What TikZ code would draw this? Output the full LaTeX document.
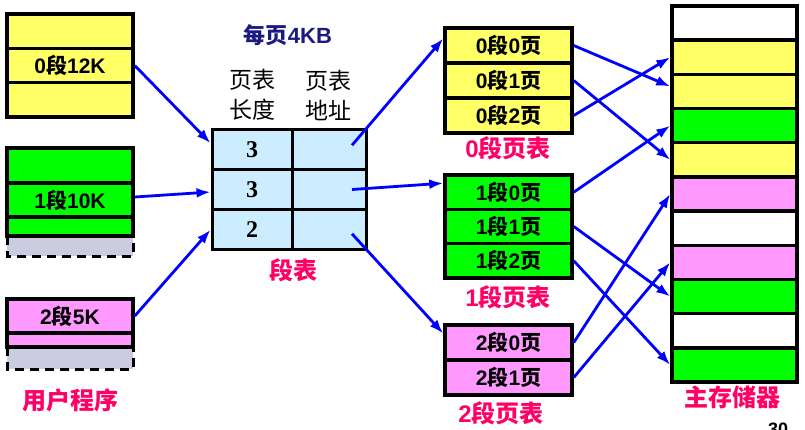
\documentclass[tikz,border=0pt]{standalone}
\usepackage{fontspec}
\setmainfont{Liberation Sans}
\newfontfamily\cjk{Noto Sans CJK SC}
\newfontfamily\numserif{Liberation Serif}
\newcommand\zh[1]{{\cjk #1}}
\usetikzlibrary{arrows.meta,calc}
\definecolor{yel}{HTML}{FFFF66}
\definecolor{grn}{HTML}{00FF00}
\definecolor{pnk}{HTML}{FF99FF}
\definecolor{gry}{HTML}{CCCCE0}
\definecolor{lblue}{HTML}{CCECFF}
\definecolor{redlab}{HTML}{FF0066}
\definecolor{navyc}{HTML}{1A1A80}
\definecolor{blueA}{HTML}{0000FF}
\begin{document}
\begin{tikzpicture}[x=1pt,y=-1pt,
  box/.style={draw=black,line width=3.5pt,inner sep=0pt,anchor=center},
  ublk/.style={box,minimum width=126pt},
  pblk/.style={box,minimum width=127pt,minimum height=#1},
  mcell/.style={box,minimum width=125pt,minimum height=34.18pt},
  tcell/.style={box,line width=3pt,fill=lblue,minimum height=40.3pt},
  lab/.style={font=\fontsize{21}{24}\selectfont\bfseries},
  numlab/.style={font=\numserif\bfseries\fontsize{24}{28}\selectfont},
  pinklab/.style={font=\fontsize{24}{28}\selectfont\bfseries,text=redlab},
  conn/.style={draw=blueA,line width=2.8pt,-{Latex[length=14pt,width=10pt]}},
  graybox/.style={fill=gry},
  dashb/.style={draw=black,line width=3pt,dash pattern=on 9pt off 6pt}
]
\useasboundingbox (0,0) rectangle (805,429);
\fill[white] (0,0) rectangle (805,429);
\clip (0,0) rectangle (805,429);

% ---- user program ----
\node[ublk,fill=yel,minimum height=34.3pt] (s0a) at (70,31.2) {};
\node[ublk,fill=yel,minimum height=34.3pt,lab] (s0b) at (70,65.5) {0\zh{段}12K};
\node[ublk,fill=yel,minimum height=34.3pt] (s0c) at (70,99.8) {};

\fill[graybox] (7,236) rectangle (133,256);
\draw[dashb] (7,236) -- (7,256) -- (133,256) -- (133,236);
\node[ublk,fill=grn,minimum height=35pt] (s1a) at (70,165.5) {};
\node[ublk,fill=grn,minimum height=34pt,lab] (s1b) at (70,200) {1\zh{段}10K};
\node[ublk,fill=grn,minimum height=19pt] (s1c) at (70,226.5) {};

\fill[graybox] (7,347) rectangle (133,369);
\draw[dashb] (7,347) -- (7,369) -- (133,369) -- (133,347);
\node[ublk,fill=pnk,minimum height=34pt,lab] (s2a) at (70,316) {2\zh{段}5K};
\node[ublk,fill=pnk,minimum height=14pt] (s2b) at (70,340) {};

\node[pinklab] (uprog) at (70,400) {\zh{用户程序}};

% ---- segment table ----
\node[navyc,font=\fontsize{22}{26}\selectfont\bfseries] (perpage) at (288,35) {\zh{每页}4KB};
\node[align=center,font=\cjk\fontsize{23}{30}\selectfont] (h1) at (252,95) {页表\\长度};
\node[align=center,font=\cjk\fontsize{23}{30}\selectfont] (h2) at (328,95) {页表\\地址};

\node[tcell,minimum width=80pt,numlab] (t0l) at (252,149.2) {3};
\node[tcell,minimum width=74pt] (t0r) at (329,149.2) {};
\node[tcell,minimum width=80pt,numlab] (t1l) at (252,189.5) {3};
\node[tcell,minimum width=74pt] (t1r) at (329,189.5) {};
\node[tcell,minimum width=80pt,numlab] (t2l) at (252,229.8) {2};
\node[tcell,minimum width=74pt] (t2r) at (329,229.8) {};
\node[pinklab] (segtab) at (293,270) {\zh{段表}};

% ---- page tables ----
\node[pblk=35pt,fill=yel,lab] (pt00) at (508.5,45.5) {0\zh{段}0\zh{页}};
\node[pblk=35pt,fill=yel,lab] (pt01) at (508.5,80.5) {0\zh{段}1\zh{页}};
\node[pblk=35pt,fill=yel,lab] (pt02) at (508.5,115.5) {0\zh{段}2\zh{页}};
\node[pinklab] (pl0) at (508,148) {0\zh{段页表}};

\node[pblk=34.3pt,fill=grn,lab] (pt10) at (508.5,192.2) {1\zh{段}0\zh{页}};
\node[pblk=34.3pt,fill=grn,lab] (pt11) at (508.5,226.5) {1\zh{段}1\zh{页}};
\node[pblk=34.3pt,fill=grn,lab] (pt12) at (508.5,260.8) {1\zh{段}2\zh{页}};
\node[pinklab] (pl1) at (508,297) {1\zh{段页表}};

\node[pblk=35pt,fill=pnk,lab] (pt20) at (508.5,342.5) {2\zh{段}0\zh{页}};
\node[pblk=35pt,fill=pnk,lab] (pt21) at (508.5,377.5) {2\zh{段}1\zh{页}};
\node[pinklab] (pl2) at (501,413) {2\zh{段页表}};

% ---- main memory ----
\foreach \c [count=\i from 0] in {white,yel,yel,grn,yel,pnk,white,pnk,grn,white,grn}
  \node[mcell,fill=\c] (m\i) at (734.5,{23.09+34.18*\i}) {};
\node[pinklab] (memlab) at (732,397) {\zh{主存储器}};
\node[font=\fontsize{18}{20}\selectfont\bfseries,anchor=base] (pgno) at (778,435) {30};

% ---- connectors ----
\draw[conn] (s0b.east) -- ([yshift=6pt]t0l.west);
\draw[conn] ([yshift=3pt]s1b.east) -- ([yshift=-2.5pt]t1l.west);
\draw[conn] (s2a.east) -- (t2l.west);

\coordinate (q0) at ($(t0r.center)+(23,-4)$);
\coordinate (q1) at ($(t1r.center)+(23,0)$);
\coordinate (q2) at ($(t2r.center)+(23,4)$);
\draw[conn] (q0) -- ([yshift=7pt]pt00.west);
\draw[conn] (q1) -- ([yshift=9pt]pt10.west);
\draw[conn] (q2) -- ([yshift=9pt]pt20.west);

\draw[conn] (pt00.east) -- ([yshift=5pt]m2.west);
\draw[conn] (pt01.east) -- (m4.west);
\draw[conn] (pt02.east) -- (m1.west);
\draw[conn] (pt10.east) -- (m3.west);
\draw[conn] (pt11.east) -- (m8.west);
\draw[conn] (pt12.east) -- (m10.west);
\draw[conn] (pt20.east) -- (m5.west);
\draw[conn] (pt21.east) -- (m7.west);
\end{tikzpicture}
\end{document}
